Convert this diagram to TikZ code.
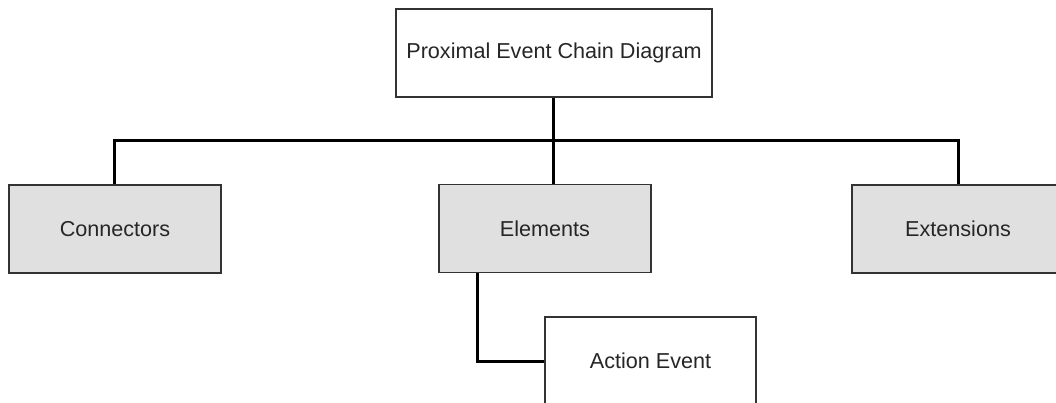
\documentclass[tikz,border=0pt]{standalone}
\usepackage{fontspec}
\setmainfont{Liberation Sans}
\begin{document}
\begin{tikzpicture}[x=1pt,y=-1pt,
  box/.style={draw=black!80, line width=1.6pt, rectangle, text=black!85,
    minimum width=212pt, minimum height=88pt, inner sep=0pt,
    font=\fontsize{21.6}{26}\selectfont},
  topbox/.style={box, fill=white, minimum width=316pt},
  catbox/.style={box, fill=black!12},
  leafbox/.style={box, fill=white, minimum width=211pt},
  link/.style={draw=black, line width=3pt}]
\useasboundingbox (0,0) rectangle (1056,403);
\clip (0,0) rectangle (1056,403);
\fill[white] (0,0) rectangle (1056,403);

% tree nodes
\node[topbox]  (top) at (554,53)    {Proximal Event Chain Diagram};
\node[catbox]  (con) at (115,229)   {Connectors};
\node[catbox]  (ele) at (545,228.5) {Elements};
\node[catbox]  (ext) at (958,229)   {Extensions};
\node[leafbox] (act) at (650.5,361) {Action Event};

% bus under the root
\coordinate (bus) at (553,140.5);

% links
\draw[link] ([xshift=-1pt]top.south) -- ([xshift=-1pt]top.south |- ele.north);
\draw[link] (con.north -| 114,0) |- (bus) -| (ext.north);
\draw[link] ([xshift=-68pt]ele.south) |- (act.west);
\end{tikzpicture}
\end{document}
